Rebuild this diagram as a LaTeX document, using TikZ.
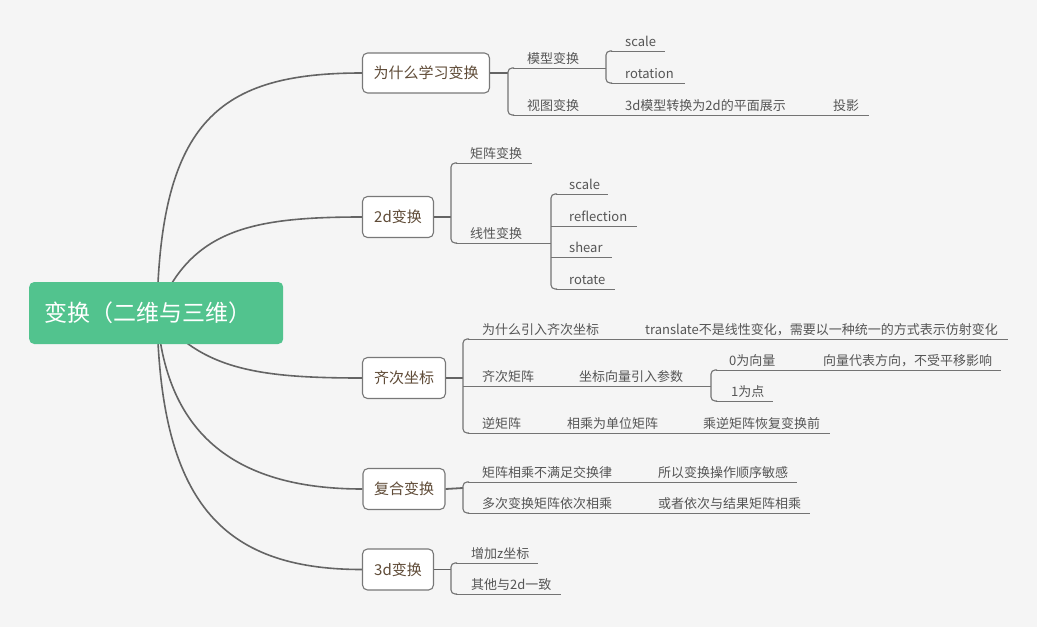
\documentclass[tikz,border=0pt]{standalone}
\usepackage{fontspec}
\newfontfamily\cjk{Noto Sans CJK SC}
\usetikzlibrary{backgrounds}
\definecolor{bgc}{RGB}{245,245,245}
\definecolor{rootg}{RGB}{82,195,142}
\definecolor{boxline}{RGB}{120,120,120}
\definecolor{boxtext}{RGB}{95,75,55}
\definecolor{leaftext}{RGB}{85,85,85}
\definecolor{linec}{RGB}{115,115,115}
\definecolor{curvec}{RGB}{100,100,100}
\tikzset{
  rootbox/.style={fill=rootg, rounded corners=5pt, anchor=west, inner xsep=15pt, inner ysep=0pt,
    text width=224pt, align=left, minimum height=62pt, text=white, font=\cjk\fontsize{23}{26}\selectfont},
  box/.style={draw=boxline, line width=1.1pt, fill=white, rounded corners=5pt, inner sep=0pt,
    font=\cjk\fontsize{15}{18}\selectfont, text=boxtext},
  leaf/.style={anchor=base west, inner sep=0pt, font=\cjk\fontsize{13}{15}\selectfont, text=leaftext},
  uline/.style={draw=linec, line width=1pt},
  brk/.style={draw=linec, line width=1.1pt, rounded corners=4pt},
  conn/.style={draw=curvec, line width=1.8pt},
  curve/.style={draw=curvec, line width=1.6pt},
}
\begin{document}
\begin{tikzpicture}[x=1pt,y=-1pt]
\useasboundingbox (0,0) rectangle (1037,627);

% root
\node[rootbox] (root) at (29,313) {变换（二维与三维）};

% ---------- group 1
\node[box, minimum width=127pt, minimum height=40pt] (b1) at (426,73) {为什么学习变换};
\coordinate (j1) at (508,73);
\coordinate (g1a) at (508,68); \coordinate (g1b) at (508,115);
\draw[conn] (b1.east) -- (j1);
\draw[brk] ([xshift=6pt]g1a) -- (g1a) -- (g1b) -- ([xshift=6pt]g1b);
\node[leaf] (t11) at (527,63) {模型变换};
\coordinate (s11) at (606,68);
\draw[uline] ([xshift=5pt]g1a) -- (s11);
\coordinate (g11a) at (606,51); \coordinate (g11b) at (606,83);
\draw[brk] ([xshift=6pt]g11a) -- (g11a) -- (g11b) -- ([xshift=6pt]g11b);
\node[leaf] (t111) at (625,46) {scale};
\coordinate (e111) at (665,51);
\draw[uline] ([xshift=5pt]g11a) -- (e111);
\node[leaf] (t112) at (625,78) {rotation};
\coordinate (e112) at (685,83);
\draw[uline] ([xshift=5pt]g11b) -- (e112);
\node[leaf] (t12) at (527,110) {视图变换};
\coordinate (s12) at (606,115);
\draw[uline] ([xshift=5pt]g1b) -- (s12);
\node[leaf] (t121) at (625,110) {3d模型转换为2d的平面展示};
\coordinate (s121) at (806,115);
\draw[uline] (s12) -- (s121);
\node[leaf] (t1211) at (833,110) {投影};
\coordinate (e1211) at (869,115);
\draw[uline] (s121) -- (e1211);

% ---------- group 2
\node[box, minimum width=71pt, minimum height=41pt] (b2) at (398,217) {2d变换};
\coordinate (j2) at (451,217);
\coordinate (g2a) at (451,163); \coordinate (g2b) at (451,243);
\draw[conn] (b2.east) -- (j2);
\draw[brk] ([xshift=6pt]g2a) -- (g2a) -- (g2b) -- ([xshift=6pt]g2b);
\node[leaf] (t21) at (470,158) {矩阵变换};
\coordinate (e21) at (532,163);
\draw[uline] ([xshift=5pt]g2a) -- (e21);
\node[leaf] (t22) at (470,238) {线性变换};
\coordinate (s22) at (551,243);
\draw[uline] ([xshift=5pt]g2b) -- (s22);
\coordinate (g22a) at (551,194); \coordinate (g22b) at (551,289);
\draw[brk] ([xshift=6pt]g22a) -- (g22a) -- (g22b) -- ([xshift=6pt]g22b);
\node[leaf] (t221) at (569,189) {scale};
\coordinate (e221) at (608,194);
\draw[uline] ([xshift=5pt]g22a) -- (e221);
\node[leaf] (t222) at (569,221) {reflection};
\coordinate (s222) at (551,226); \coordinate (e222) at (637,226);
\draw[uline] (s222) -- (e222);
\node[leaf] (t223) at (569,252) {shear};
\coordinate (s223) at (551,257); \coordinate (e223) at (612,257);
\draw[uline] (s223) -- (e223);
\node[leaf] (t224) at (569,284) {rotate};
\coordinate (e224) at (615,289);
\draw[uline] ([xshift=5pt]g22b) -- (e224);

% ---------- group 3
\node[box, minimum width=83pt, minimum height=41pt] (b3) at (404,378) {齐次坐标};
\coordinate (j3) at (463,378);
\coordinate (g3a) at (463,339); \coordinate (g3b) at (463,433);
\draw[conn] (b3.east) -- (j3);
\draw[brk] ([xshift=6pt]g3a) -- (g3a) -- (g3b) -- ([xshift=6pt]g3b);
\node[leaf] (t31) at (482,334) {为什么引入齐次坐标};
\coordinate (s31) at (627,339);
\draw[uline] ([xshift=5pt]g3a) -- (s31);
\node[leaf] (t311) at (645,334) {translate不是线性变化，需要以一种统一的方式表示仿射变化};
\coordinate (e311) at (1008,339);
\draw[uline] (s31) -- (e311);
\node[leaf] (t32) at (482,381) {齐次矩阵};
\coordinate (m32) at (463,386); \coordinate (s32) at (560,386);
\draw[uline] (m32) -- (s32);
\node[leaf] (t321) at (579,381) {坐标向量引入参数};
\coordinate (s321) at (711,386);
\draw[uline] (s32) -- (s321);
\coordinate (g32a) at (711,370); \coordinate (g32b) at (711,401);
\draw[brk] ([xshift=6pt]g32a) -- (g32a) -- (g32b) -- ([xshift=6pt]g32b);
\node[leaf] (t3211) at (729,365) {0为向量};
\coordinate (s3211) at (800,370);
\draw[uline] ([xshift=5pt]g32a) -- (s3211);
\node[leaf] (t32111) at (823,365) {向量代表方向，不受平移影响};
\coordinate (e32111) at (1001,370);
\draw[uline] (s3211) -- (e32111);
\node[leaf] (t3212) at (731,396) {1为点};
\coordinate (e3212) at (773,401);
\draw[uline] ([xshift=5pt]g32b) -- (e3212);
\node[leaf] (t33) at (482,428) {逆矩阵};
\coordinate (s33) at (545,433);
\draw[uline] ([xshift=5pt]g3b) -- (s33);
\node[leaf] (t331) at (567,428) {相乘为单位矩阵};
\coordinate (s331) at (680,433);
\draw[uline] (s33) -- (s331);
\node[leaf] (t3311) at (703,428) {乘逆矩阵恢复变换前};
\coordinate (e3311) at (830,433);
\draw[uline] (s331) -- (e3311);

% ---------- group 4
\node[box, minimum width=82pt, minimum height=41pt] (b4) at (404,489) {复合变换};
\coordinate (j4) at (463,488);
\coordinate (g4a) at (463,482); \coordinate (g4b) at (463,513);
\draw[conn] (b4.east) -- (j4);
\draw[brk] ([xshift=6pt]g4a) -- (g4a) -- (g4b) -- ([xshift=6pt]g4b);
\node[leaf] (t41) at (482,477) {矩阵相乘不满足交换律};
\coordinate (s41) at (635,482);
\draw[uline] ([xshift=5pt]g4a) -- (s41);
\node[leaf] (t411) at (658,477) {所以变换操作顺序敏感};
\coordinate (e411) at (797,482);
\draw[uline] (s41) -- (e411);
\node[leaf] (t42) at (482,508) {多次变换矩阵依次相乘};
\coordinate (s42) at (635,513);
\draw[uline] ([xshift=5pt]g4b) -- (s42);
\node[leaf] (t421) at (658,508) {或者依次与结果矩阵相乘};
\coordinate (e421) at (810,513);
\draw[uline] (s42) -- (e421);

% ---------- group 5
\node[box, minimum width=71pt, minimum height=41pt] (b5) at (398,569.5) {3d变换};
\coordinate (j5) at (451,569.5);
\coordinate (g5a) at (451,563); \coordinate (g5b) at (451,594);
\draw[conn] (b5.east) -- (j5);
\draw[brk] ([xshift=6pt]g5a) -- (g5a) -- (g5b) -- ([xshift=6pt]g5b);
\node[leaf] (t51) at (471,558) {增加z坐标};
\coordinate (e51) at (538,563);
\draw[uline] ([xshift=5pt]g5a) -- (e51);
\node[leaf] (t52) at (471,589) {其他与2d一致};
\coordinate (e52) at (561,594);
\draw[uline] ([xshift=5pt]g5b) -- (e52);

% ---------- background and main curves
\begin{pgfonlayer}{background}
\fill[bgc] (0,0) rectangle (1037,627);
\coordinate (rc) at (157,313);
\draw[curve] (rc) .. controls +(3,-193) and +(-142,0) .. (b1.west);
\draw[curve] (rc) .. controls +(33,-83) and +(-112,0) .. (b2.west);
\draw[curve] (rc) .. controls +(43,57) and +(-102,0) .. (b3.west);
\draw[curve] (rc) .. controls +(8,117) and +(-132,0) .. (b4.west);
\draw[curve] (rc) .. controls +(3,187) and +(-142,0) .. (b5.west);
\end{pgfonlayer}
\end{tikzpicture}
\end{document}
